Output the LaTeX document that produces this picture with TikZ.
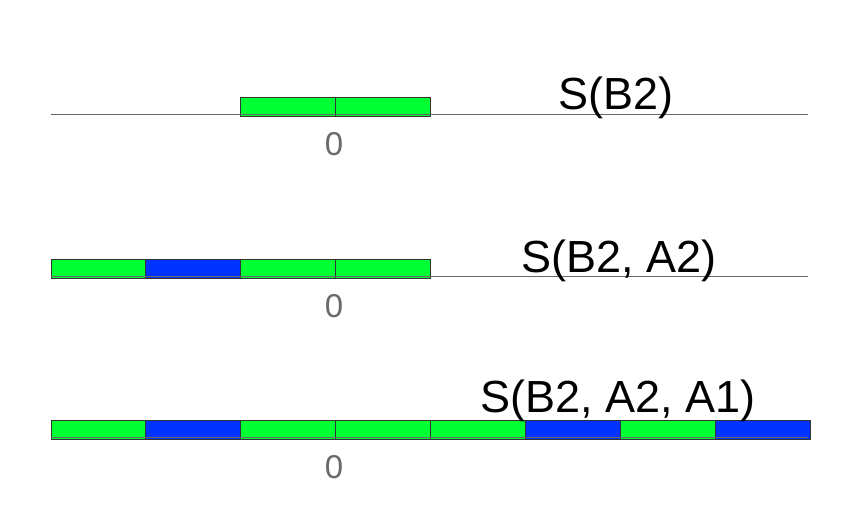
\documentclass[tikz,border=0pt]{standalone}
\usepackage{fontspec}
\setmainfont{Liberation Sans}
\definecolor{cellgreen}{HTML}{00FF33}
\definecolor{cellblue}{HTML}{0033FF}
\definecolor{axisgray}{HTML}{666666}
\definecolor{cellborder}{HTML}{333333}
\definecolor{zerogray}{HTML}{6A6A6A}
\tikzset{
  cell/.style={draw=cellborder, line width=0.9pt, minimum width=94.875pt, minimum height=19pt, inner sep=0pt, outer sep=0pt, anchor=north west},
  gcell/.style={cell, fill=cellgreen},
  bcell/.style={cell, fill=cellblue},
  axisline/.style={draw=axisgray, line width=0.9pt},
  title/.style={font=\fontsize{45}{54}\selectfont, text=black, anchor=base, inner sep=0pt},
  zero/.style={font=\fontsize{33}{39}\selectfont, text=zerogray, anchor=base, inner sep=0pt}
}
\begin{document}
\begin{tikzpicture}[x=1pt,y=-1pt]
\useasboundingbox (0,0) rectangle (862,508);
% row 1
\node[gcell] (r1c3) at (240.75,97.5) {};
\node[gcell] (r1c4) at (335.625,97.5) {};
\coordinate (r1l) at (51,114.5);
\coordinate (r1r) at (808,114.5);
\draw[axisline] (r1l) -- (r1r);
\node[zero] (z1) at (334,155) {0};
\node[title] (t1) at (616,109.5) {S(B2)};
% row 2
\node[gcell] (r2c1) at (51,259.3) {};
\node[bcell] (r2c2) at (145.875,259.3) {};
\node[gcell] (r2c3) at (240.75,259.3) {};
\node[gcell] (r2c4) at (335.625,259.3) {};
\coordinate (r2l) at (51,276.3);
\coordinate (r2r) at (808,276.3);
\draw[axisline] (r2l) -- (r2r);
\node[zero] (z2) at (334,317) {0};
\node[title] (t2) at (619,272) {S(B2, A2)};
% row 3
\node[gcell] (r3c1) at (51,420.5) {};
\node[bcell] (r3c2) at (145.875,420.5) {};
\node[gcell] (r3c3) at (240.75,420.5) {};
\node[gcell] (r3c4) at (335.625,420.5) {};
\node[gcell] (r3c5) at (430.5,420.5) {};
\node[bcell] (r3c6) at (525.375,420.5) {};
\node[gcell] (r3c7) at (620.25,420.5) {};
\node[bcell] (r3c8) at (715.125,420.5) {};
\coordinate (r3l) at (51,437.5);
\coordinate (r3r) at (808,437.5);
\draw[axisline] (r3l) -- (r3r);
\node[zero] (z3) at (334,478) {0};
\node[title] (t3) at (618,412) {S(B2, A2, A1)};
\end{tikzpicture}
\end{document}
